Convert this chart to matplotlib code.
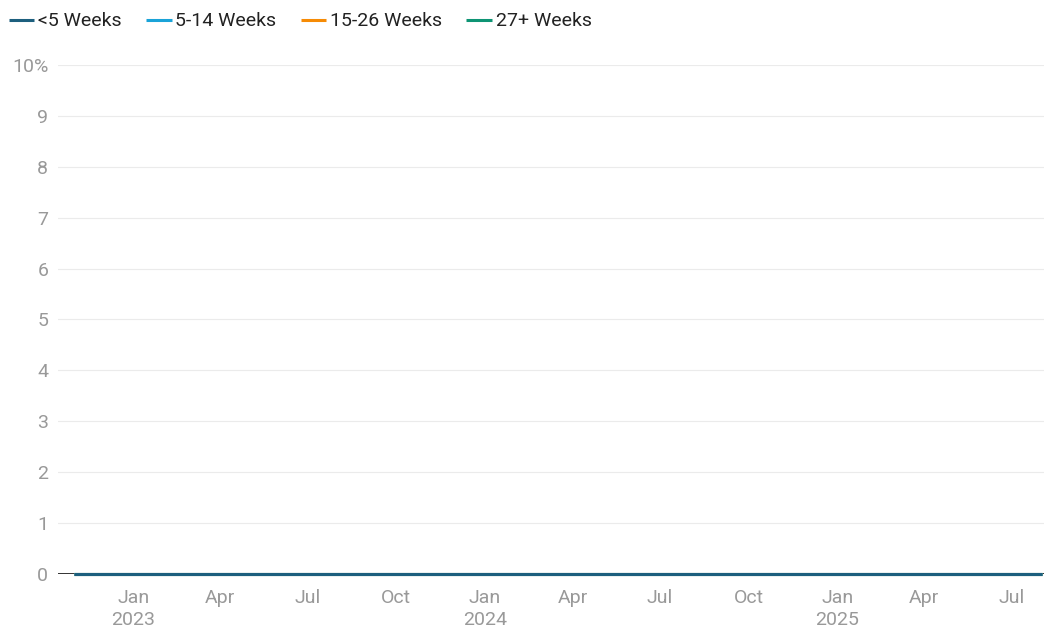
import pandas as pd
import matplotlib.pyplot as plt

plt.rcParams['font.family'] = ['Roboto', 'DejaVu Sans']

# monthly observations, Nov 2022 - Aug 2025
months = pd.date_range('2022-11-01', '2025-08-01', freq='MS')
under_5 = [0, 0, 0, 0, 0, 0, 0, 0, 0, 0, 0, 0, 0, 0, 0, 0, 0,
           0, 0, 0, 0, 0, 0, 0, 0, 0, 0, 0, 0, 0, 0, 0, 0, 0]
w5_14 = [0, 0, 0, 0, 0, 0, 0, 0, 0, 0, 0, 0, 0, 0, 0, 0, 0,
         0, 0, 0, 0, 0, 0, 0, 0, 0, 0, 0, 0, 0, 0, 0, 0, 0]
w15_26 = [0, 0, 0, 0, 0, 0, 0, 0, 0, 0, 0, 0, 0, 0, 0, 0, 0,
          0, 0, 0, 0, 0, 0, 0, 0, 0, 0, 0, 0, 0, 0, 0, 0, 0]
w27_plus = [0, 0, 0, 0, 0, 0, 0, 0, 0, 0, 0, 0, 0, 0, 0, 0, 0,
            0, 0, 0, 0, 0, 0, 0, 0, 0, 0, 0, 0, 0, 0, 0, 0, 0]

series = [('<5 Weeks', under_5, '#1d5f7e'),
          ('5-14 Weeks', w5_14, '#1aa3d8'),
          ('15-26 Weeks', w15_26, '#f68b05'),
          ('27+ Weeks', w27_plus, '#0e9474')]

fig = plt.figure(figsize=(10.45, 6.3), dpi=100)
ax = fig.add_axes([0.0555, 0.089, 0.944, 0.808])

ax.axhline(0, color='#111111', lw=1.2, zorder=5)

# draw in reverse so the first series sits on top
n = len(series)
for i, (name, vals, col) in enumerate(series):
    ax.plot(months, vals, color=col, lw=2.2, label=name, zorder=10 + n - i,
            solid_capstyle='butt', clip_on=False)

ax.set_ylim(0, 10)
ax.set_yticks(range(0, 11))
ax.set_yticklabels([str(v) if v < 10 else '10%' for v in range(0, 11)])
ax.set_xlim(pd.Timestamp('2022-10-15'), pd.Timestamp('2025-08-04'))

ticks = pd.date_range('2023-01-01', '2025-07-01', freq='QS')
ax.set_xticks(ticks)
ax.set_xticklabels([t.strftime('%b') + ('\n' + str(t.year) if t.month == 1 else '')
                    for t in ticks])

ax.grid(axis='y', color='#ebebeb', lw=0.8)
ax.set_axisbelow(True)
for s in ax.spines.values():
    s.set_visible(False)
ax.tick_params(length=0, labelsize=14, colors='#999999')
ax.tick_params(axis='y', pad=7)
ax.tick_params(axis='x', pad=11)
for lbl in ax.get_xticklabels():
    lbl.set_linespacing(1.3)

handles, labels = ax.get_legend_handles_labels()
fig.legend(handles, labels, loc='upper left', bbox_to_anchor=(-0.008, 1.008),
           ncol=4, frameon=False, fontsize=14, handlelength=1.3,
           handletextpad=0.2, columnspacing=1.25, labelcolor='#222222')

fig.savefig('out.png', dpi=100)
